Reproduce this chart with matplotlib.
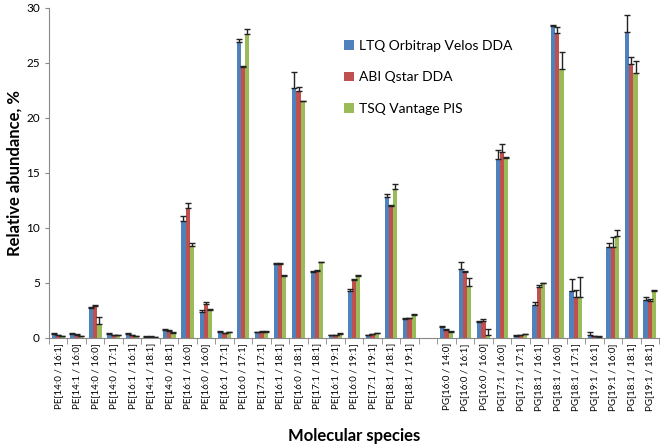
import matplotlib.pyplot as plt
import numpy as np

plt.rcParams['font.family'] = ['Lato', 'DejaVu Sans']

nan = np.nan

labels = ['PE[14:0 / 16:1]', 'PE[14:1 / 16:0]', 'PE[14:0 / 16:0]', 'PE[14:0 / 17:1]',
          'PE[16:1 / 16:1]', 'PE[14:1 / 18:1]', 'PE[14:0 / 18:1]', 'PE[16:1 / 16:0]',
          'PE[16:0 / 16:0]', 'PE[16:1 / 17:1]', 'PE[16:0 / 17:1]', 'PE[17:1 / 17:1]',
          'PE[16:1 / 18:1]', 'PE[16:0 / 18:1]', 'PE[17:1 / 18:1]', 'PE[16:1 / 19:1]',
          'PE[16:0 / 19:1]', 'PE[17:1 / 19:1]', 'PE[18:1 / 18:1]', 'PE[18:1 / 19:1]',
          '',
          'PG[16:0 / 14:0]', 'PG[16:0 / 16:1]', 'PG[16:0 / 16:0]', 'PG[17:1 / 16:0]',
          'PG[17:1 / 17:1]', 'PG[18:1 / 16:1]', 'PG[18:1 / 16:0]', 'PG[18:1 / 17:1]',
          'PG[19:1 / 16:1]', 'PG[19:1 / 16:0]', 'PG[18:1 / 18:1]', 'PG[19:1 / 18:1]']

ltq = [0.33, 0.33, 2.65, 0.33, 0.33, 0.1, 0.7, 10.6, 2.35, 0.55, 26.85, 0.5, 6.7, 22.7,
       5.94, 0.25, 4.2, 0.2, 12.76, 1.7, nan,
       1.0, 6.25, 1.4, 16.26, 0.18, 3.0, 28.35, 4.27, 0.25, 8.2, 27.8, 3.45]
ltq_err = [0.05, 0.05, 0.1, 0.05, 0.05, 0.02, 0.05, 0.5, 0.15, 0.05, 0.3, 0.05, 0.1, 1.4,
           0.1, 0.03, 0.2, 0.03, 0.25, 0.05, nan,
           0.1, 0.6, 0.1, 0.75, 0.03, 0.2, 0.1, 1.1, 0.25, 0.4, 1.55, 0.2]

abi = [0.25, 0.27, 2.86, 0.2, 0.25, 0.1, 0.6, 11.8, 3.1, 0.4, 24.57, 0.55, 6.7, 22.4,
       6.03, 0.25, 5.2, 0.33, 11.95, 1.75, nan,
       0.7, 5.94, 1.48, 16.86, 0.25, 4.64, 27.7, 3.73, 0.15, 8.28, 24.84, 3.3]
abi_err = [0.03, 0.03, 0.1, 0.03, 0.03, 0.02, 0.05, 0.4, 0.1, 0.05, 0.08, 0.05, 0.08, 0.4,
           0.1, 0.03, 0.15, 0.03, 0.08, 0.05, nan,
           0.1, 0.1, 0.22, 0.7, 0.03, 0.15, 0.5, 0.6, 0.03, 0.9, 0.65, 0.2]

tsq = [0.15, 0.15, 1.23, 0.25, 0.12, 0.08, 0.45, 8.3, 2.55, 0.5, 27.6, 0.55, 5.64, 21.5,
       6.85, 0.35, 5.6, 0.42, 13.5, 2.06, nan,
       0.55, 4.67, 0.25, 16.35, 0.33, 4.94, 24.45, 3.73, 0.1, 9.2, 24.05, 4.2]
tsq_err = [0.03, 0.03, 0.6, 0.03, 0.03, 0.02, 0.03, 0.3, 0.05, 0.05, 0.45, 0.05, 0.05, 0.05,
           0.05, 0.03, 0.1, 0.03, 0.5, 0.05, nan,
           0.05, 0.75, 0.55, 0.1, 0.03, 0.06, 1.5, 1.8, 0.03, 0.55, 1.05, 0.16]

series = [('LTQ Orbitrap Velos DDA', ltq, ltq_err, '#4F81BD'),
          ('ABI Qstar DDA', abi, abi_err, '#C0504D'),
          ('TSQ Vantage PIS', tsq, tsq_err, '#9BBB59')]

fig = plt.figure(figsize=(6.62, 4.46), dpi=100)
ax = fig.add_axes([0.074, 0.243, 0.9215, 0.74])

x = np.arange(len(labels))
w = 0.23
for k, (name, vals, err, col) in enumerate(series):
    vals = np.array(vals)
    err = np.array(err)
    yerr = np.vstack([np.zeros_like(err), err])
    ax.bar(x + (k - 1) * w, vals, w, color=col, label=name,
           yerr=yerr, error_kw=dict(ecolor='#222222', elinewidth=1, capsize=2.2, capthick=1))

ax.set_xlim(-0.5, len(labels) - 0.5)
ax.set_ylim(0, 30)
ax.set_yticks(range(0, 31, 5))
ax.tick_params(axis='y', labelsize=8.5, length=3, color='#888888', direction='out')

ax.set_xticks(x)
ax.set_xticklabels(labels, rotation=90, fontsize=7)
ax.set_xticks(np.arange(-0.5, len(labels), 1), minor=True)
ax.tick_params(axis='x', which='major', length=0, pad=4)
ax.tick_params(axis='x', which='minor', length=4, color='#888888', direction='out')

for s in ['top', 'right']:
    ax.spines[s].set_visible(False)
for s in ['left', 'bottom']:
    ax.spines[s].set_color('#888888')

ax.set_ylabel('Relative abundance, %', fontsize=12, fontweight='bold', labelpad=3)
fig.text(0.535, 0.012, 'Molecular species', fontsize=12, fontweight='bold', ha='center')

ax.legend(loc='upper left', bbox_to_anchor=(0.463, 0.94), frameon=False, fontsize=10,
          handlelength=0.7, handleheight=0.7, handletextpad=0.4, labelspacing=1.4)

plt.savefig('out.png', dpi=100)
